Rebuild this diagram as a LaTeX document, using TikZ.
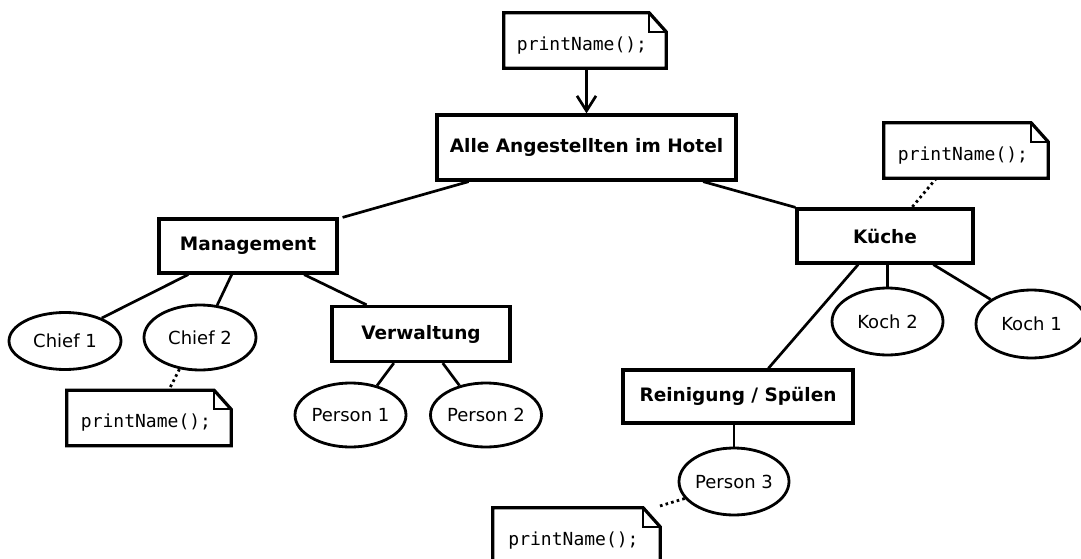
\documentclass[tikz,border=0pt]{standalone}
\usepackage{fontspec}
\setmainfont{DejaVu Sans}
\newfontfamily\codefont{DejaVu Sans Mono}
\usetikzlibrary{shapes.geometric,arrows.meta,calc}

\newcommand{\umlnote}[3]{%
  \node[notebox,minimum width=#3] (#1) at (#2) {\raisebox{-5pt}[\height][\depth]{printName();}\hspace*{6pt}};
  \draw[noteline] (#1.south west) -- (#1.north west) -- ([xshift=-17pt]#1.north east)
     -- ([yshift=-19pt]#1.north east) -- (#1.south east) -- cycle;
  \draw[foldline] ([xshift=-17pt]#1.north east) |- ([yshift=-19pt]#1.north east);
}

\begin{document}
\begin{tikzpicture}[x=1pt,y=-1pt,
  box/.style={draw,line width=3.2pt,rectangle,inner sep=0pt,
    font=\fontsize{18.5}{22}\selectfont\bfseries},
  oval/.style={draw,line width=2.8pt,ellipse,inner sep=0pt,
    font=\fontsize{18}{22}\selectfont},
  notebox/.style={rectangle,inner sep=0pt,minimum height=55pt,
    font=\codefont\fontsize{18}{22}\selectfont},
  noteline/.style={line width=3.2pt,line join=miter},
  foldline/.style={line width=1.8pt},
  conn/.style={line width=2.7pt},
  dots/.style={line width=2.8pt,dash pattern=on 2.6pt off 3.2pt},
]
\useasboundingbox (0,0) rectangle (1081,559);

% boxes
\node[box,minimum width=299pt,minimum height=65pt] (alle) at (586.5,147.5) {Alle Angestellten im Hotel};
\node[box,minimum width=178pt,minimum height=54pt] (mgmt) at (248,246) {Management};
\node[box,minimum width=178pt,minimum height=55pt] (verw) at (421,334) {Verwaltung};
\node[box,minimum width=176pt,minimum height=54pt] (kueche) at (885,236) {Küche};
\node[box,minimum width=230pt,minimum height=53pt] (rein) at (738,396.5) {Reinigung / Spülen};

% ellipses
\node[oval,minimum width=112pt,minimum height=57pt] (chief1) at (65,341) {Chief 1};
\node[oval,minimum width=112pt,minimum height=65pt] (chief2) at (200,337.5) {Chief 2};
\node[oval,minimum width=111pt,minimum height=64pt] (p1) at (350.5,415) {Person 1};
\node[oval,minimum width=111pt,minimum height=64pt] (p2) at (486,415) {Person 2};
\node[oval,minimum width=111pt,minimum height=67pt] (koch2) at (887.5,321.5) {Koch 2};
\node[oval,minimum width=111pt,minimum height=68pt] (koch1) at (1031.5,324) {Koch 1};
\node[oval,minimum width=110pt,minimum height=67pt] (p3) at (734,481.5) {Person 3};

% notes
\umlnote{note1}{585,40.5}{162pt}
\umlnote{note2}{966,150.5}{164pt}
\umlnote{note3}{149,418}{164pt}
\umlnote{note4}{576.5,535.5}{167pt}

% arrow
\draw[conn,-{Straight Barb[length=15pt,width=19pt,line width=2.7pt]}] (note1.south -| alle.north) -- (alle.north);

% connectors
\draw[conn] ($(alle.south west)!0.11!(alle.south east)$) -- ($(mgmt.north east)+(4,0)$);
\draw[conn] ($(alle.south west)!0.886!(alle.south east)$) -- (kueche.north west);
\draw[conn] ($(mgmt.south west)!0.17!(mgmt.south east)$) -- (chief1.32);
\draw[conn] ($(mgmt.south west)!0.41!(mgmt.south east)$) -- (chief2.62);
\draw[conn] ($(mgmt.south west)!0.81!(mgmt.south east)$) -- ($(verw.north west)!0.2!(verw.north east)$);
\draw[conn] ($(verw.south west)!0.35!(verw.south east)$) -- (p1.48);
\draw[conn] ($(verw.south west)!0.62!(verw.south east)$) -- (p2.132);
\draw[conn] ($(kueche.south west)!0.35!(kueche.south east)$) -- ($(rein.north west)!0.63!(rein.north east)$);
\draw[conn] (koch2.north |- kueche.south) -- (koch2.north);
\draw[conn] ($(kueche.south west)!0.77!(kueche.south east)$) -- (koch1.149);
\draw[conn] (p3.north |- rein.south) -- (p3.north);

% dotted links
\draw[dots] ($(note2.south west)!0.32!(note2.south east)$) -- ($(kueche.north west)!0.65!(kueche.north east)$);
\draw[dots] (chief2.237) -- ($(note3.north west)!0.62!(note3.north east)$);
\draw[dots] (p3.199) -- ($(note4.north east)+(-3,-1)$);
\end{tikzpicture}
\end{document}
